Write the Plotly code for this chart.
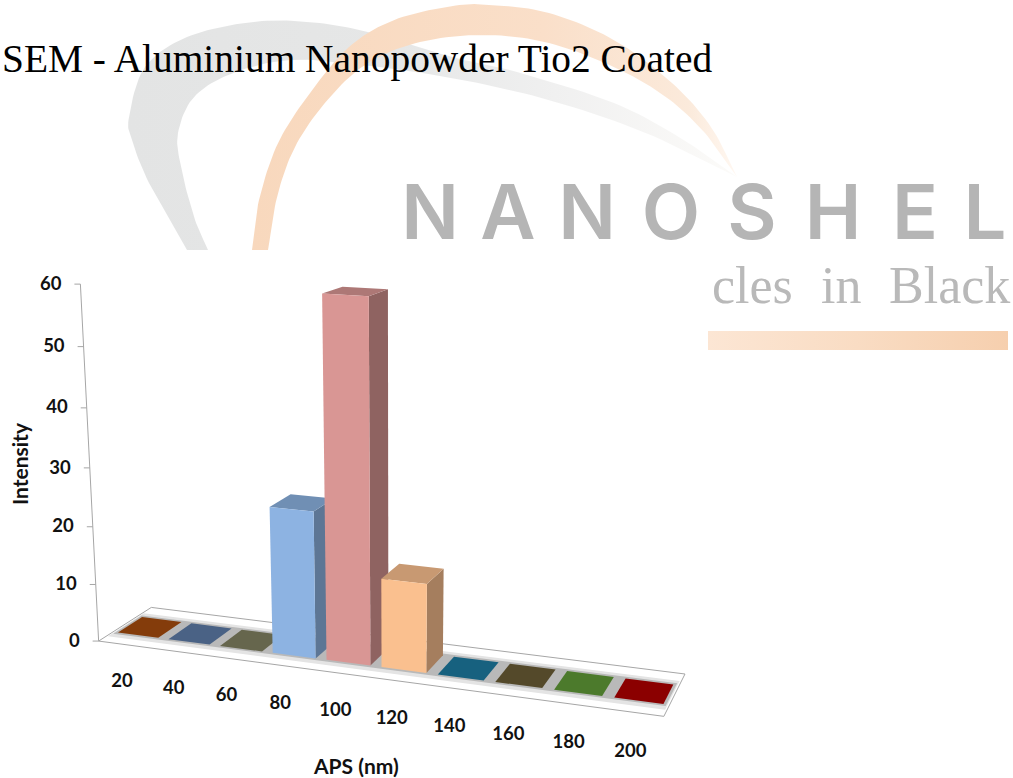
import numpy as np
import plotly.graph_objects as go

# ---- data -------------------------------------------------------------
categories = ["20", "40", "60", "80", "100", "120", "140", "160", "180", "200"]
intensity = [0, 0, 0, 25, 60, 15, 0, 0, 0, 0]
y_ticks = [0, 10, 20, 30, 40, 50, 60]
bar_colors = ["#843c0b", "#4a6285", "#66664d", "#8db3e2", "#d99694",
              "#fac08f", "#17617f", "#54492a", "#4c7a2c", "#8b0000"]

title_text = "SEM - Aluminium Nanopowder Tio2 Coated"
logo_letters = list("NANOSHEL")
logo_centres = [430, 508, 587, 671, 752, 833, 915, 985]
tagline_words = ["cles", "in", "Black"]
tagline_starts = [710, 819, 887]

# ---- camera calibration: reference points of the 3-D box (u=category, v=depth, h=value)
frame_uvh = [(0, 0, 0), (10, 0, 0), (0, 1, 0), (10, 1, 0), (0, 0, 60), (0, 0, 50), (0, 0, 40), (0, 0, 30),
             (0, 0, 20), (0, 0, 10), (0.1, 0.26, 0), (3.1, 0.26, 0), (4.1, 0.26, 0), (5.1, 0.26, 0), (9.1, 0.26, 0),
             (4.1, 0.26, 60), (4.9, 0.26, 60), (4.1, 0.72, 60), (4.9, 0.72, 60),
             (3.1, 0.26, 25), (3.9, 0.26, 25), (5.1, 0.26, 15), (5.9, 0.26, 15), (5.1, 0.72, 15), (5.9, 0.72, 15)]
frame_px = [(97, 642), (662, 718), (152, 607), (686, 674), (81, 285), (83.5, 347), (86, 408), (89, 468),
            (92, 527), (95, 585), (120, 631), (273, 653), (327, 660), (382, 667), (615, 696),
            (324, 294), (370, 296), (342, 286), (386, 289),
            (271, 507), (314, 509), (382, 577), (428, 583), (398, 566), (441, 571)]

A, b = [], []
for (u, v, h), (px, py) in zip(frame_uvh, frame_px):
    A.append([u, v, h, 1, 0, 0, 0, 0, -px * u, -px * v, -px * h]); b.append(px)
    A.append([0, 0, 0, 0, u, v, h, 1, -py * u, -py * v, -py * h]); b.append(py)
P = np.linalg.lstsq(np.array(A, float), np.array(b, float), rcond=None)[0]


def proj(u, v, h):
    w = P[8] * u + P[9] * v + P[10] * h + 1
    return ((P[0] * u + P[1] * v + P[2] * h + P[3]) / w,
            (P[4] * u + P[5] * v + P[6] * h + P[7]) / w)


def shade(hex_color, f):
    r, g, B = [int(hex_color[i:i + 2], 16) for i in (1, 3, 5)]
    return "#%02x%02x%02x" % (int(r * f), int(g * f), int(B * f))


def smooth(points, n=12):
    """Catmull-Rom densify of an open outline."""
    pts = np.array(points, float)
    ext = np.vstack([2 * pts[0] - pts[1], pts, 2 * pts[-1] - pts[-2]])
    out = []
    for i in range(1, len(ext) - 2):
        p0, p1, p2, p3 = ext[i - 1], ext[i], ext[i + 1], ext[i + 2]
        for t in np.linspace(0, 1, n, endpoint=False):
            out.append(0.5 * (2 * p1 + (p2 - p0) * t + (2 * p0 - 5 * p1 + 4 * p2 - p3) * t ** 2
                              + (3 * p1 - p0 - 3 * p2 + p3) * t ** 3))
    out.append(pts[-1])
    return [tuple(p) for p in out]


fig = go.Figure()


def poly(points, fill, line=None, lw=0.0):
    xs = [p[0] for p in points] + [points[0][0]]
    ys = [p[1] for p in points] + [points[0][1]]
    fig.add_trace(go.Scatter(x=xs, y=ys, mode="lines", fill="toself", fillcolor=fill,
                             line=dict(color=line or fill, width=lw if line else 0),
                             hoverinfo="skip", showlegend=False))


def grad_poly(points, stops, x0, x1):
    xs = [p[0] for p in points] + [points[0][0]]
    ys = [p[1] for p in points] + [points[0][1]]
    fig.add_trace(go.Scatter(x=xs, y=ys, mode="lines", fill="toself",
                             fillgradient=dict(type="horizontal", colorscale=stops, start=x0, stop=x1),
                             line=dict(width=0), hoverinfo="skip", showlegend=False))


# ---- watermark logo ----------------------------------------------------
grey_outer = [(187, 250), (149, 183), (132, 140), (129, 117), (145, 67), (187, 37), (252, 22), (310, 22), (368, 32),
              (452, 57), (517, 72), (614, 103), (679, 137), (737, 177)]
grey_inner = [(737, 177), (646, 133), (549, 100), (452, 78), (362, 65), (291, 60), (233, 73), (194, 97),
              (178, 133), (181, 167), (194, 217), (208, 250)]
orange_outer = [(252, 250), (259, 200), (278, 143), (310, 93), (349, 47), (394, 20), (452, 6), (491, 5),
                (549, 13), (614, 40), (672, 83), (711, 127), (737, 177)]
orange_inner = [(737, 177), (705, 133), (666, 97), (614, 67), (549, 43), (485, 35), (420, 42), (368, 63),
                (330, 97), (297, 143), (278, 193), (268, 250)]
band = [(708, 331), (1008, 331), (1008, 350), (708, 350)]

grad_poly(smooth(grey_outer) + smooth(grey_inner),
          [[0, "#e3e4e4"], [0.45, "#e6e7e7"], [0.7, "#f0f0f0"], [1, "#fcfbf9"]], 129, 737)
grad_poly(smooth(orange_outer) + smooth(orange_inner),
          [[0, "#f8d8bd"], [0.6, "#fadfc9"], [0.9, "#fbeadb"], [1, "#fff8f2"]], 252, 737)
grad_poly(band, [[0, "#fce6d4"], [0.5, "#f9dcc3"], [1, "#f6cfae"]], 708, 1008)

fig.add_trace(go.Scatter(x=logo_centres, y=[220] * len(logo_letters), mode="text", text=logo_letters,
                         textposition="middle center",
                         textfont=dict(family="Inter", size=76, color="#b5b5b5", weight=600),
                         hoverinfo="skip", showlegend=False))

# ---- floor --------------------------------------------------------------
axis_c = "#a6a6a6"
poly([proj(0, 0, 0), proj(10, 0, 0), proj(10, 1, 0), proj(0, 1, 0)], "#ffffff", axis_c, 1)
poly([proj(0.03, 0.14, 0), proj(9.97, 0.14, 0), proj(9.97, 0.82, 0), proj(0.03, 0.82, 0)], "#e4e4e4")
poly([proj(0.05, 0.22, 0), proj(9.95, 0.22, 0), proj(9.95, 0.76, 0), proj(0.05, 0.76, 0)], "#b9b9b9")

# ---- axis ---------------------------------------------------------------
ax = [proj(0, 0, t) for t in y_ticks]
fig.add_trace(go.Scatter(x=[p[0] for p in ax], y=[p[1] for p in ax], mode="lines",
                         line=dict(color=axis_c, width=1), hoverinfo="skip", showlegend=False))
for p in ax:
    fig.add_trace(go.Scatter(x=[p[0] - 6, p[0]], y=[p[1], p[1]], mode="lines",
                             line=dict(color=axis_c, width=1), hoverinfo="skip", showlegend=False))

# ---- bars ---------------------------------------------------------------
bar_w, v0, v1 = 0.80, 0.26, 0.72
for i, (val, col) in enumerate(zip(intensity, bar_colors)):
    u0, u1 = i + 0.5 - bar_w / 2, i + 0.5 + bar_w / 2
    if val > 0:
        poly([proj(u1, v0, 0), proj(u1, v1, 0), proj(u1, v1, val), proj(u1, v0, val)], shade(col, 0.66))
        poly([proj(u0, v0, val), proj(u1, v0, val), proj(u1, v1, val), proj(u0, v1, val)], shade(col, 0.8))
        poly([proj(u0, v0, 0), proj(u1, v0, 0), proj(u1, v0, val), proj(u0, v0, val)], col)
    else:
        poly([proj(u0, v0, 0), proj(u1, v0, 0), proj(u1, v1, 0), proj(u0, v1, 0)], col)

# ---- tick labels --------------------------------------------------------
tick_font = dict(family="Lato", size=18.5, color="#111111", weight=700)
fig.add_trace(go.Scatter(x=[p[0] - 19 for p in ax], y=[p[1] + 1 for p in ax], mode="text",
                         text=[str(t) for t in y_ticks], textposition="middle left", textfont=tick_font,
                         hoverinfo="skip", showlegend=False))
cat_pts = [proj(i + 0.5, 0, 0) for i in range(len(categories))]
fig.add_trace(go.Scatter(x=[p[0] - 2 for p in cat_pts], y=[p[1] + 37.5 + 0.3 * i for i, p in enumerate(cat_pts)],
                         mode="text", text=categories, textposition="middle center", textfont=tick_font,
                         hoverinfo="skip", showlegend=False))

# ---- layout -------------------------------------------------------------
annots = [
    dict(text=title_text, xref="paper", yref="paper", x=0, y=1 - 59 / 778, xanchor="left", yanchor="middle",
         showarrow=False, font=dict(family="Liberation Serif", size=39.4, color="#000000")),
    dict(text="Intensity", xref="x", yref="y", x=19, y=464, textangle=-90, showarrow=False,
         font=dict(family="Lato", size=21, color="#111111", weight=700)),
    dict(text="APS (nm)", xref="x", yref="y", x=356, y=765, showarrow=False,
         font=dict(family="Lato", size=21, color="#111111", weight=700)),
]
for word, start in zip(tagline_words, tagline_starts):
    annots.append(dict(text=word, xref="x", yref="y", x=start, y=285, xanchor="left", yanchor="middle",
                       showarrow=False, font=dict(family="Liberation Serif", size=52, color="#b9b9b9")))

fig.update_layout(
    width=1013, height=778, margin=dict(l=0, r=0, t=0, b=0),
    paper_bgcolor="#ffffff", plot_bgcolor="#ffffff", showlegend=False,
    xaxis=dict(range=[0, 1013], visible=False, fixedrange=True),
    yaxis=dict(range=[778, 0], visible=False, fixedrange=True),
    annotations=annots,
)
fig.write_html("out.html", config=dict(displayModeBar=False),
               post_script="document.body.style.margin='0';document.body.style.overflow='hidden';")
